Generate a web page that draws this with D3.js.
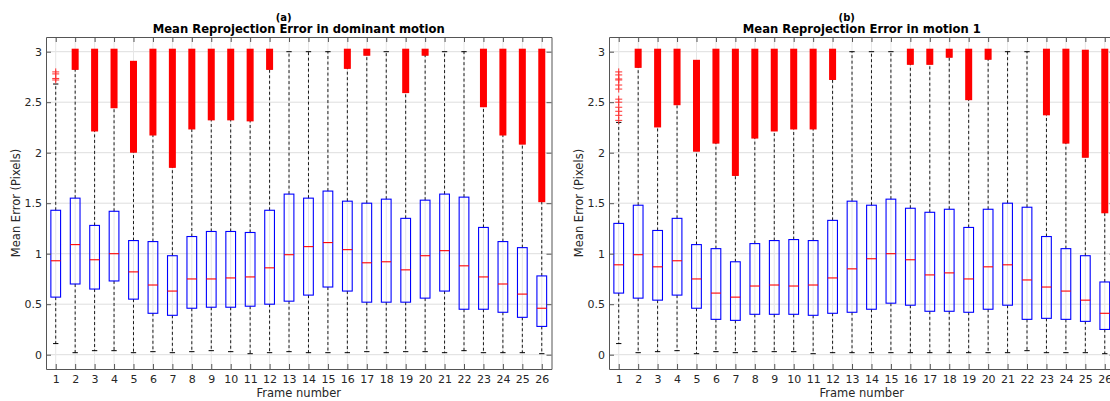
<!DOCTYPE html>
<html>
<head>
<meta charset="utf-8">
<script src="https://cdn.jsdelivr.net/npm/d3@7"></script>
<style>
  body { margin: 0; background: #fff; }
  svg { display: block; font-family: "DejaVu Sans", sans-serif; }
  .tick text { fill: #262626; font-size: 11px; }
  .axis path, .axis line { stroke: #555; }
</style>
</head>
<body>
<div id="container"></div>
<script>
// frames on the x axis
const frames = [1, 2, 3, 4, 5, 6, 7, 8, 9, 10, 11, 12, 13, 14, 15, 16, 17, 18, 19, 20, 21, 22, 23, 24, 25, 26];
const yTicks = [0, 0.5, 1, 1.5, 2, 2.5, 3];

// (a) dominant motion
const aLow    = [0.11, 0.02, 0.04, 0.04, 0.02, 0.03, 0.02, 0.03, 0.04, 0.03, 0.01, 0.02, 0.03, 0.02, 0.02, 0.02, 0.03, 0.02, 0.03, 0.03, 0.02, 0.04, 0.02, 0.02, 0.02, 0.01];
const aQ1     = [0.57, 0.70, 0.65, 0.73, 0.55, 0.41, 0.39, 0.46, 0.47, 0.47, 0.48, 0.50, 0.53, 0.59, 0.67, 0.63, 0.52, 0.52, 0.52, 0.56, 0.63, 0.45, 0.45, 0.42, 0.37, 0.28];
const aMedian = [0.93, 1.09, 0.94, 1.00, 0.82, 0.69, 0.63, 0.75, 0.75, 0.76, 0.77, 0.86, 0.99, 1.07, 1.11, 1.04, 0.91, 0.92, 0.84, 0.98, 1.03, 0.88, 0.77, 0.70, 0.60, 0.46];
const aQ3     = [1.43, 1.55, 1.28, 1.42, 1.13, 1.12, 0.98, 1.17, 1.22, 1.22, 1.21, 1.43, 1.59, 1.55, 1.62, 1.52, 1.50, 1.54, 1.35, 1.53, 1.59, 1.56, 1.26, 1.12, 1.06, 0.78];
const aHigh   = [2.68, 2.83, 2.22, 2.45, 2.01, 2.18, 1.86, 2.24, 2.33, 2.33, 2.32, 2.83, 3.00, 3.00, 3.00, 2.84, 2.97, 3.00, 2.60, 2.97, 3.00, 3.00, 2.46, 2.18, 2.09, 1.52];
// top of the packed outlier run (null = none)
const aOutTop = [null, 3, 3, 3, 2.88, 3, 3, 3, 3, 3, 3, 3, null, null, null, 3, 3, null, 3, 3, null, null, 3, 3, 3, 3];
// single outliers [frame, value]
const aFliers = [[1, 2.72], [1, 2.735], [1, 2.78], [1, 2.80]];

// (b) motion 1
const bLow    = [0.11, 0.02, 0.03, 0.04, 0.01, 0.03, 0.02, 0.03, 0.03, 0.03, 0.01, 0.02, 0.02, 0.02, 0.02, 0.02, 0.02, 0.02, 0.02, 0.02, 0.02, 0.04, 0.02, 0.02, 0.02, 0.01];
const bQ1     = [0.61, 0.56, 0.54, 0.59, 0.46, 0.35, 0.34, 0.40, 0.40, 0.40, 0.39, 0.41, 0.42, 0.45, 0.51, 0.49, 0.43, 0.43, 0.42, 0.45, 0.49, 0.35, 0.36, 0.35, 0.33, 0.25];
const bMedian = [0.89, 0.99, 0.87, 0.93, 0.75, 0.61, 0.57, 0.68, 0.69, 0.68, 0.69, 0.76, 0.85, 0.95, 1.00, 0.94, 0.79, 0.81, 0.75, 0.87, 0.89, 0.74, 0.67, 0.63, 0.54, 0.41];
const bQ3     = [1.30, 1.48, 1.23, 1.35, 1.09, 1.05, 0.92, 1.10, 1.13, 1.14, 1.13, 1.33, 1.52, 1.48, 1.54, 1.45, 1.41, 1.44, 1.26, 1.44, 1.50, 1.46, 1.17, 1.05, 0.98, 0.72];
const bHigh   = [2.30, 2.85, 2.26, 2.48, 2.02, 2.10, 1.78, 2.15, 2.22, 2.24, 2.24, 2.73, 3.00, 3.00, 3.00, 2.88, 2.88, 2.95, 2.53, 2.93, 3.00, 3.00, 2.38, 2.10, 1.96, 1.41];
const bOutTop = [null, 3, 3, 3, 2.89, 3, 3, 3, 3, 3, 3, 3, null, null, null, 3, 3, 3, 3, 3, null, null, 3, 3, 2.99, 3];
const bFliers = [[1, 2.32], [1, 2.37], [1, 2.41], [1, 2.45], [1, 2.50], [1, 2.53], [1, 2.63], [1, 2.67], [1, 2.72], [1, 2.73], [1, 2.77], [1, 2.80]];

var width = 1110;
var height = 401;
var plotTop = 37;
var plotBottom = 369;
var plotWidth = 505.5;

var svg = d3.select("#container").append("svg")
    .attr("width", width)
    .attr("height", height);

function DrawPanel(left, tag, title, low, q1, med, q3, high, outTop, fliers) {
    let x = d3.scaleLinear().domain([0.5, 26.5]).range([left, left + plotWidth]);
    let y = d3.scaleLinear().domain([-0.1416, 3.1455]).range([plotBottom, plotTop]);
    let step = x(2) - x(1);
    let boxW = step * 0.5;
    let capW = boxW * 0.55;

    let g = svg.append("g");

    // grid
    g.selectAll(".hgrid").data(yTicks).enter().append("line")
        .attr("x1", left).attr("x2", left + plotWidth)
        .attr("y1", d => y(d)).attr("y2", d => y(d))
        .style("stroke", "#dedede");
    g.selectAll(".vgrid").data(frames).enter().append("line")
        .attr("x1", d => x(d)).attr("x2", d => x(d))
        .attr("y1", plotTop).attr("y2", plotBottom)
        .style("stroke", "#e6e6e6");

    let rows = frames.map((f, i) => ({ f: f, lo: low[i], q1: q1[i], med: med[i], q3: q3[i], hi: high[i], top: outTop[i] }));

    // whiskers
    g.selectAll(".wup").data(rows).enter().append("line")
        .attr("x1", d => x(d.f)).attr("x2", d => x(d.f))
        .attr("y1", d => y(d.q3)).attr("y2", d => y(d.hi))
        .style("stroke", "#000").style("stroke-width", 0.9).style("stroke-dasharray", "3,2.5");
    g.selectAll(".wdown").data(rows).enter().append("line")
        .attr("x1", d => x(d.f)).attr("x2", d => x(d.f))
        .attr("y1", d => y(d.q1)).attr("y2", d => y(d.lo))
        .style("stroke", "#000").style("stroke-width", 0.9).style("stroke-dasharray", "3,2.5");
    ["hi", "lo"].forEach(k => {
        g.selectAll(".cap" + k).data(rows).enter().append("line")
            .attr("x1", d => x(d.f) - capW / 2).attr("x2", d => x(d.f) + capW / 2)
            .attr("y1", d => y(d[k])).attr("y2", d => y(d[k]))
            .style("stroke", "#000").style("stroke-width", 1);
    });

    // boxes
    g.selectAll(".box").data(rows).enter().append("rect")
        .attr("x", d => x(d.f) - boxW / 2)
        .attr("y", d => y(d.q3))
        .attr("width", boxW)
        .attr("height", d => y(d.q1) - y(d.q3))
        .style("fill", "none").style("stroke", "#0000ff").style("stroke-width", 1.1);
    g.selectAll(".med").data(rows).enter().append("line")
        .attr("x1", d => x(d.f) - boxW / 2).attr("x2", d => x(d.f) + boxW / 2)
        .attr("y1", d => y(d.med)).attr("y2", d => y(d.med))
        .style("stroke", "#ff0000").style("stroke-width", 1.1);

    // packed outliers: '+' markers overlap into a solid run
    g.selectAll(".outrun").data(rows.filter(d => d.top != null)).enter().append("rect")
        .attr("x", d => x(d.f) - 3.5)
        .attr("y", d => y(d.top) - 3)
        .attr("width", 7)
        .attr("height", d => y(d.hi) - y(d.top) + 4)
        .style("fill", "#ff0000");

    // single outliers
    let plus = g.selectAll(".flier").data(fliers).enter().append("g")
        .attr("transform", d => "translate(" + x(d[0]) + "," + y(d[1]) + ")");
    plus.append("line").attr("x1", -3.5).attr("x2", 3.5).attr("y1", 0).attr("y2", 0)
        .style("stroke", "#ff3030").style("stroke-width", 1);
    plus.append("line").attr("x1", 0).attr("x2", 0).attr("y1", -3.5).attr("y2", 3.5)
        .style("stroke", "#ff3030").style("stroke-width", 1);

    // axes (ticks inside, MATLAB style)
    g.append("g").attr("class", "axis")
        .attr("transform", "translate(0," + plotBottom + ")")
        .call(d3.axisBottom(x).tickValues(frames).tickSizeInner(-5).tickSizeOuter(0).tickPadding(6));
    g.append("g").attr("class", "axis")
        .attr("transform", "translate(0," + plotTop + ")")
        .call(d3.axisTop(x).tickValues(frames).tickSizeInner(-5).tickSizeOuter(0).tickFormat(""));
    g.append("g").attr("class", "axis")
        .attr("transform", "translate(" + left + ",0)")
        .call(d3.axisLeft(y).tickValues(yTicks).tickSizeInner(-5).tickSizeOuter(0).tickPadding(4).tickFormat(d3.format("")));
    g.append("g").attr("class", "axis")
        .attr("transform", "translate(" + (left + plotWidth) + ",0)")
        .call(d3.axisRight(y).tickValues(yTicks).tickSizeInner(-5).tickSizeOuter(0).tickFormat(""));
    g.selectAll(".axis text").style("font-family", "DejaVu Sans");

    let mid = left + plotWidth / 2;

    // titles
    g.append("text").attr("x", mid - 15).attr("y", 21)
        .attr("text-anchor", "middle")
        .style("font-weight", "bold").style("font-size", "10px").style("fill", "#000")
        .text(tag);
    g.append("text").attr("x", mid).attr("y", 33)
        .attr("text-anchor", "middle")
        .style("font-weight", "bold").style("font-size", "11.6px").style("fill", "#000")
        .text(title);

    // axis labels
    g.append("text").attr("x", mid).attr("y", 397)
        .attr("text-anchor", "middle")
        .style("font-size", "11.5px").style("fill", "#262626")
        .text("Frame number");
    g.append("text")
        .attr("transform", "translate(" + (left - 26) + "," + ((plotTop + plotBottom) / 2) + ") rotate(-90)")
        .attr("text-anchor", "middle")
        .style("font-size", "11.5px").style("fill", "#262626")
        .text("Mean Error (Pixels)");
}

DrawPanel(46, "(a)", "Mean Reprojection Error in dominant motion", aLow, aQ1, aMedian, aQ3, aHigh, aOutTop, aFliers);
DrawPanel(609, "(b)", "Mean Reprojection Error in motion 1", bLow, bQ1, bMedian, bQ3, bHigh, bOutTop, bFliers);
</script>
</body>
</html>
